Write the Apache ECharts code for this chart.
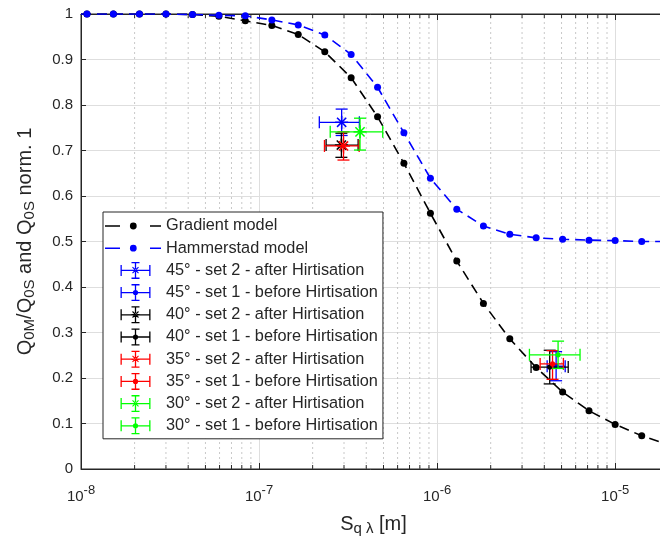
<!DOCTYPE html>
<html><head><meta charset="utf-8">
<script src="https://cdn.jsdelivr.net/npm/echarts@6/dist/echarts.min.js"></script>
<style>html,body{margin:0;padding:0;background:#fff}#c{width:660px;height:537px}</style>
</head><body><div id="c"></div>
<script>
// ---- data ----
const modelX = [1.08e-8, 1.52e-8, 2.13e-8, 3.0e-8, 4.23e-8, 5.95e-8, 8.37e-8, 1.18e-7, 1.66e-7, 2.34e-7, 3.29e-7,
  4.63e-7, 6.51e-7, 9.17e-7, 1.29e-6, 1.82e-6, 2.56e-6, 3.6e-6, 5.07e-6, 7.13e-6, 1.0e-5, 1.41e-5];
const gradientY = [1.0, 1.0, 1.0, 1.0, 0.999, 0.995, 0.985, 0.975, 0.955, 0.917, 0.860,
  0.774, 0.672, 0.562, 0.457, 0.364, 0.286, 0.223, 0.169, 0.128, 0.098, 0.073];
const hammerstadY = [1.0, 1.0, 1.0, 1.0, 0.999, 0.997, 0.996, 0.987, 0.976, 0.954, 0.911,
  0.839, 0.739, 0.639, 0.571, 0.534, 0.516, 0.508, 0.505, 0.503, 0.502, 0.500];
// curve ends (line continues to the axis limits without markers)
const gradientEnds = [[1e-8, 1.0], [1.93e-5, 0.055]];
const hammerstadEnds = [[1e-8, 1.0], [1.93e-5, 0.5]];

const xMin = 1e-8, xMax = 1.93e-5;
const minorMultipliers = [2, 3, 4, 5, 6, 7, 8, 9];
const minorDecades = [1e-8, 1e-7, 1e-6, 1e-5];

const errNames = ['45° - set 2 - after Hirtisation', '45° - set 1 - before Hirtisation',
  '40° - set 2 - after Hirtisation', '40° - set 1 - before Hirtisation',
  '35° - set 2 - after Hirtisation', '35° - set 1 - before Hirtisation',
  '30° - set 2 - after Hirtisation', '30° - set 1 - before Hirtisation'];
const errColors = ['#0000ff', '#0000ff', '#000000', '#000000', '#ff0000', '#ff0000', '#00ff00', '#00ff00'];
const errMarkers = ['star', 'dot', 'star', 'dot', 'star', 'dot', 'star', 'dot'];
// [x, y, xLow, xHigh, yLow, yHigh]
const err45set2 = [2.91e-7, 0.762, 2.18e-7, 3.66e-7, 0.733, 0.791];
const err45set1 = [4.66e-6, 0.226, 4.15e-6, 5.24e-6, 0.194, 0.258];
const err40set2 = [2.90e-7, 0.712, 2.38e-7, 3.60e-7, 0.685, 0.738];
const err40set1 = [4.29e-6, 0.224, 3.37e-6, 5.45e-6, 0.187, 0.261];
const err35set2 = [2.98e-7, 0.710, 2.33e-7, 3.65e-7, 0.679, 0.741];
const err35set1 = [4.45e-6, 0.231, 3.79e-6, 5.12e-6, 0.197, 0.260];
const err30set2 = [3.69e-7, 0.741, 2.51e-7, 4.95e-7, 0.701, 0.771];
const err30set1 = [4.78e-6, 0.251, 3.30e-6, 6.35e-6, 0.221, 0.281];
const errData = [err45set2, err45set1, err40set2, err40set1, err35set2, err35set1, err30set2, err30set1];

// ---- build ----
const minorTicks = [];
minorDecades.forEach(d => minorMultipliers.forEach(m => { const v = d * m; if (v < xMax) minorTicks.push(v); }));

function curve(ys, ends) {
  const pts = [{ value: ends[0], symbol: 'none' }];
  modelX.forEach((x, i) => pts.push([x, ys[i]]));
  pts.push({ value: ends[1], symbol: 'none' });
  return pts;
}

function errRender(color, marker) {
  return function (params, api) {
    const x = api.value(0), y = api.value(1);
    const c = api.coord([x, y]);
    const l = api.coord([api.value(2), y]);
    const r = api.coord([api.value(3), y]);
    const b = api.coord([x, api.value(4)]);
    const t = api.coord([x, api.value(5)]);
    const cap = 6;
    const st = { stroke: color, lineWidth: 1.3, fill: null };
    const line = (x1, y1, x2, y2, w) => ({ type: 'line', shape: { x1, y1, x2, y2 }, style: Object.assign({}, st, w ? { lineWidth: w } : {}) });
    const kids = [
      line(l[0], c[1], r[0], c[1]),
      line(l[0], c[1] - cap, l[0], c[1] + cap),
      line(r[0], c[1] - cap, r[0], c[1] + cap),
      line(c[0], t[1], c[0], b[1]),
      line(c[0] - cap, t[1], c[0] + cap, t[1]),
      line(c[0] - cap, b[1], c[0] + cap, b[1])
    ];
    if (marker === 'star') {
      const s = 6.5, d = 4.6;
      kids.push(line(c[0] - s, c[1], c[0] + s, c[1], 1.5), line(c[0], c[1] - s, c[0], c[1] + s, 1.5),
        line(c[0] - d, c[1] - d, c[0] + d, c[1] + d, 1.5), line(c[0] - d, c[1] + d, c[0] + d, c[1] - d, 1.5));
    } else {
      kids.push({ type: 'circle', shape: { cx: c[0], cy: c[1], r: 2.6 }, style: { fill: color } });
    }
    return { type: 'group', children: kids };
  };
}

// legend icons (56 x 18 box)
const box = 'M0,0L0.01,0M56,18L55.99,18';
const circ = (cx, cy, r) => `M${cx - r},${cy}A${r},${r},0,1,1,${cx + r},${cy}A${r},${r},0,1,1,${cx - r},${cy}Z`;
const rect = (x0, y0, x1, y1) => `M${x0},${y0}L${x1},${y0}L${x1},${y1}L${x0},${y1}Z`;
const lineIcon = 'path://' + box + rect(0, 8.2, 15, 9.8) + rect(45, 8.2, 56, 9.8) + circ(28.3, 9, 3.4);
const errBase = box + rect(15.5, 8.35, 45.5, 9.65) + rect(15.5, 3.5, 16.8, 14.5) + rect(44.2, 3.5, 45.5, 14.5)
  + rect(29.85, 0.5, 31.15, 17.5) + rect(26.5, 0.5, 34.5, 1.8) + rect(26.5, 16.2, 34.5, 17.5);
const starIcon = 'path://' + errBase + rect(26.5, 8.3, 34.5, 9.7)
  + 'M27.1,6.1L27.9,5.3L33.9,11.3L33.1,12.1Z' + 'M27.1,11.3L27.9,12.1L33.9,6.1L33.1,5.3Z';
const dotIcon = 'path://' + errBase + circ(30.5, 9, 2.6);

const txt = '#262626';
const font = 'Liberation Sans, Arial, sans-serif';

const series = [
  { type: 'custom', name: 'minor', silent: true, z: 1, xAxisIndex: 0, yAxisIndex: 0,
    data: minorTicks.map(v => [v]),
    encode: { x: 0 },
    renderItem: function (params, api) {
      const v = api.value(0);
      const p0 = api.coord([v, 0]), p1 = api.coord([v, 1]);
      return { type: 'group', children: [
        { type: 'line', shape: { x1: p0[0], y1: p0[1], x2: p1[0], y2: p1[1] }, style: { stroke: '#c8c8c8', lineWidth: 1, lineDash: [2, 3] } },
        { type: 'line', shape: { x1: p0[0], y1: p0[1], x2: p0[0], y2: p0[1] - 4 }, style: { stroke: txt, lineWidth: 1 } },
        { type: 'line', shape: { x1: p1[0], y1: p1[1], x2: p1[0], y2: p1[1] + 4 }, style: { stroke: txt, lineWidth: 1 } }
      ] };
    }
  },
  { type: 'line', name: 'Gradient model', data: curve(gradientY, gradientEnds), z: 3,
    symbol: 'circle', symbolSize: 7, color: '#000000',
    itemStyle: { color: '#000000' }, lineStyle: { color: '#000000', width: 1.6, type: [10, 6] } },
  { type: 'line', name: 'Hammerstad model', data: curve(hammerstadY, hammerstadEnds), z: 3,
    symbol: 'circle', symbolSize: 7, color: '#0000ff',
    itemStyle: { color: '#0000ff' }, lineStyle: { color: '#0000ff', width: 1.6, type: [10, 6] } }
];
errNames.forEach((n, i) => {
  series.push({ type: 'custom', name: n, z: 4 + i, color: errColors[i], itemStyle: { color: errColors[i] },
    data: [errData[i]], encode: { x: [0, 2, 3], y: [1, 4, 5] },
    renderItem: errRender(errColors[i], errMarkers[i]) });
});

const legendData = [{ name: 'Gradient model', icon: lineIcon }, { name: 'Hammerstad model', icon: lineIcon }]
  .concat(errNames.map((n, i) => ({ name: n, icon: errMarkers[i] === 'star' ? starIcon : dotIcon })));

const option = {
  animation: false,
  textStyle: { fontFamily: font },
  grid: { left: 81, top: 14, right: -6, bottom: 68, outerBoundsMode: 'none', containLabel: false,
    show: true, borderColor: txt, borderWidth: 1, backgroundColor: '#fff' },
  legend: {
    data: legendData, orient: 'vertical', left: 103, top: 212,
    itemWidth: 56, itemHeight: 18, itemGap: 4.2,
    padding: [5, 5, 4, 2],
    backgroundColor: '#fff', borderColor: txt, borderWidth: 1,
    itemStyle: { borderWidth: 0 },
    textStyle: { fontSize: 16.3, color: txt, fontFamily: font },
    selectedMode: false
  },
  xAxis: [
    { type: 'log', logBase: 10, min: xMin, max: xMax, position: 'bottom',
      name: 'S{sub|q λ} [m]', nameLocation: 'middle', nameGap: 43,
      nameTextStyle: { fontSize: 20, color: txt, rich: { sub: { fontSize: 15, color: txt, padding: [9, 0, 0, 0] } } },
      axisLine: { lineStyle: { color: txt, width: 1 } },
      axisTick: { inside: true, length: 6, lineStyle: { color: txt } },
      splitLine: { show: true, lineStyle: { color: '#dedede', width: 1 } },
      axisLabel: { margin: 15, color: txt, fontSize: 15, showMaxLabel: false,
        rich: { b: { fontSize: 15, color: txt }, s: { fontSize: 13, color: txt, padding: [0, 0, 13, 0] } },
        formatter: function (v) {
          const e = Math.log10(v), k = Math.round(e);
          if (Math.abs(e - k) > 1e-6) return '';
          return '{b|10}{s|' + k + '}';
        } } },
    { type: 'log', logBase: 10, min: xMin, max: xMax, position: 'top',
      axisLine: { show: true, lineStyle: { color: txt } },
      axisTick: { inside: true, length: 6, lineStyle: { color: txt } },
      axisLabel: { show: false }, splitLine: { show: false } }
  ],
  yAxis: {
    type: 'value', min: 0, max: 1, interval: 0.1,
    name: 'Q{sub|0M}/Q{sub|0S} and Q{sub|0S} norm. 1', nameLocation: 'middle', nameGap: 44,
    nameTextStyle: { fontSize: 20, color: txt, rich: { sub: { fontSize: 15, color: txt, padding: [9, 0, 0, 0] } } },
    axisLine: { show: true, lineStyle: { color: txt } },
    axisTick: { show: true, inside: true, length: 5, lineStyle: { color: txt } },
    splitLine: { show: true, lineStyle: { color: '#dedede', width: 1 } },
    axisLabel: { margin: 8, color: txt, fontSize: 15 }
  },
  series: series
};
const chart = echarts.init(document.getElementById('c'), null, { renderer: 'canvas' });
chart.setOption(option);
</script></body></html>
